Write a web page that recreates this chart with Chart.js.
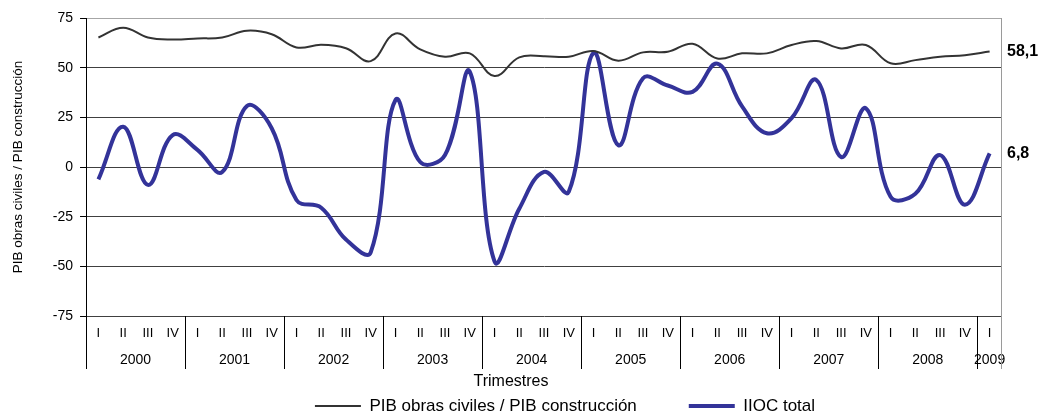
<!DOCTYPE html>
<html lang="es">
<head>
<meta charset="utf-8">
<title>IIOC total y PIB obras civiles / PIB construcción</title>
<script src="https://cdn.jsdelivr.net/npm/chart.js@4.4.1/dist/chart.umd.min.js"></script>
<style>
    html, body { margin: 0; padding: 0; background: #fff; }
    #wrap { width: 1040px; height: 413px; }
</style>
</head>
<body>
<div id="wrap"><canvas id="chart" width="1040" height="413"></canvas></div>
<script>
// Data
const years = ['2000', '2001', '2002', '2003', '2004', '2005', '2006', '2007', '2008', '2009'];
const quarterNames = ['I', 'II', 'III', 'IV'];
const quartersPerYear = [4, 4, 4, 4, 4, 4, 4, 4, 4, 1];

const pibRatio = [65.2, 70.1, 65.2, 64.2, 64.7, 65.2, 68.6, 66.8, 60.2, 61.5, 59.8, 53.3,
    67.2, 59.2, 55.5, 57.2, 45.8, 55.2, 55.8, 55.5, 58.4, 53.5, 57.7, 58.0,
    62.0, 54.6, 57.2, 57.2, 61.4, 63.4, 59.7, 61.4, 52.2, 53.8, 55.5, 56.3, 58.1];

const iiocTotal = [-6.2, 20.3, -9.0, 16.1, 8.6, -2.5, 30.7, 19.5, -16.6, -20.5, -36.5, -43.0,
    33.7, 2.5, 6.0, 48.0, -47.5, -21.0, -2.5, -12.5, 57.5, 11.0, 44.7, 41.0,
    37.8, 52.0, 30.5, 17.0, 24.6, 43.8, 5.0, 29.6, -15.0, -13.5, 6.0, -19.0, 6.8];

// Quarter labels and year groups
const quarterLabels = [];
const yearStarts = [];
const yearCenters = [];
years.forEach((year, i) => {
    const start = quarterLabels.length;
    for (let q = 0; q < quartersPerYear[i]; q++) {
        quarterLabels.push(quarterNames[q]);
    }
    yearStarts.push(start);
    yearCenters.push(start + (quartersPerYear[i] - 1) / 2);
});

Chart.defaults.font.family = '"Liberation Sans", Arial, sans-serif';
Chart.defaults.color = '#000';

// Year separators, plot border and end-of-line values
const yearAxisPlugin = {
    id: 'yearAxis',
    afterLayout(chart) {
        chart.legend.left += 64;
        chart.legend.right += 64;
        if (chart.titleBlock) {
            chart.titleBlock.left += 10;
            chart.titleBlock.right += 10;
        }
    },
    afterDraw(chart) {
        const { ctx, chartArea, scales } = chart;
        const x = scales.x;
        const bw = (x.right - x.left) / quarterLabels.length;
        const bottom = chartArea.bottom + 53;

        ctx.save();
        ctx.lineWidth = 1;
        ctx.strokeStyle = '#000';
        yearStarts.forEach(s => {
            const px = Math.round(x.left + s * bw) + 0.5;
            ctx.beginPath();
            ctx.moveTo(px, chartArea.bottom);
            ctx.lineTo(px, bottom);
            ctx.stroke();
        });

        const rx = Math.round(chartArea.right) - 0.5;
        ctx.strokeStyle = '#9a9a9a';
        ctx.beginPath();
        ctx.moveTo(rx, chartArea.top);
        ctx.lineTo(rx, bottom);
        ctx.stroke();

        ctx.font = 'bold 16px "Liberation Sans", Arial, sans-serif';
        ctx.fillStyle = '#000';
        ctx.textAlign = 'left';
        ctx.textBaseline = 'middle';
        chart.data.datasets.forEach((ds, i) => {
            const meta = chart.getDatasetMeta(i);
            const last = meta.data[meta.data.length - 1];
            const value = ds.data[ds.data.length - 1];
            ctx.fillText(value.toFixed(1).replace('.', ','), chartArea.right + 5, last.y);
        });
        ctx.restore();
    }
};

new Chart(document.getElementById('chart'), {
    type: 'line',
    data: {
        labels: quarterLabels,
        datasets: [{
            label: 'PIB obras civiles / PIB construcción',
            data: pibRatio,
            borderColor: '#333333',
            backgroundColor: '#333333',
            borderWidth: 2,
            pointRadius: 0,
            tension: 0.4
        }, {
            label: 'IIOC total',
            data: iiocTotal,
            borderColor: '#333399',
            backgroundColor: '#333399',
            borderWidth: 4,
            pointRadius: 0,
            tension: 0.4
        }]
    },
    options: {
        responsive: false,
        animation: false,
        layout: { padding: { left: 0, right: 38, top: 18, bottom: 0 } },
        scales: {
            x: {
                type: 'category',
                offset: true,
                grid: { display: false, drawTicks: false },
                border: { display: false },
                ticks: { font: { size: 13 }, padding: 10, autoSkip: false, maxRotation: 0 }
            },
            x2: {
                type: 'linear',
                position: 'bottom',
                weight: 1,
                min: -0.5,
                max: quarterLabels.length - 0.5,
                afterBuildTicks: axis => {
                    axis.ticks = yearCenters.map(v => ({ value: v }));
                },
                grid: { display: false, drawTicks: false },
                border: { display: false },
                ticks: {
                    font: { size: 14 },
                    padding: 0,
                    autoSkip: false,
                    maxRotation: 0,
                    callback: (v, i) => years[i]
                }
            },
            y: {
                min: -75,
                max: 75,
                ticks: { stepSize: 25, font: { size: 14 }, padding: 7 },
                grid: {
                    color: c => (c.tick && c.tick.value === 75 ? '#a6a6a6' : '#404040'),
                    tickColor: '#000',
                    tickLength: 6
                },
                border: { display: true, color: '#000' },
                title: {
                    display: true,
                    text: 'PIB obras civiles / PIB construcción',
                    font: { size: 13.5 },
                    padding: { top: 9.9, bottom: 19.7 }
                }
            }
        },
        plugins: {
            legend: {
                position: 'bottom',
                maxHeight: 15.5,
                labels: {
                    usePointStyle: true,
                    pointStyle: 'line',
                    pointStyleWidth: 46,
                    padding: 0,
                    font: { size: 17 },
                    generateLabels(chart) {
                        const items = Chart.defaults.plugins.legend.labels.generateLabels(chart);
                        items[0].text += ' '.repeat(11);
                        return items;
                    }
                }
            },
            title: {
                display: true,
                position: 'bottom',
                weight: 500,
                text: 'Trimestres',
                font: { size: 16, weight: 'normal' },
                padding: { top: 4, bottom: 5.9 }
            },
            tooltip: { enabled: false }
        }
    },
    plugins: [yearAxisPlugin]
});
</script>
</body>
</html>
